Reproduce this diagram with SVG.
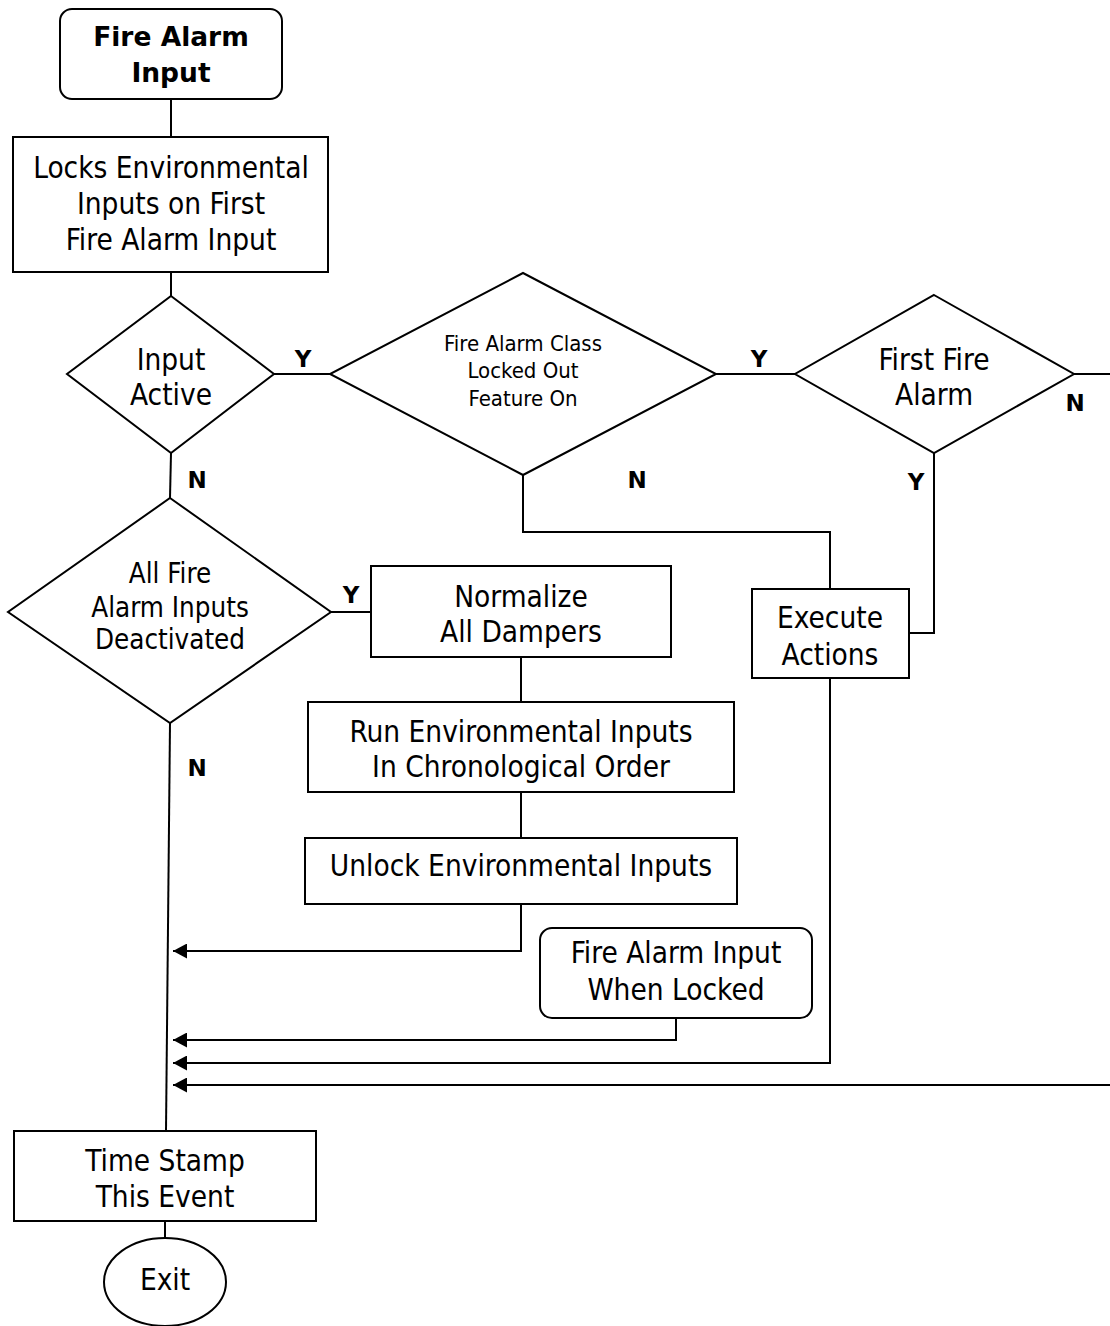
<svg xmlns="http://www.w3.org/2000/svg" width="1110" height="1326" viewBox="0 0 1110 1326">
<style>
  .shape { fill: #ffffff; stroke: #000000; stroke-width: 2; }
  .conn { fill: none; stroke: #000000; stroke-width: 2; }
  text { font-family: 'DejaVu Sans Condensed', 'DejaVu Sans', sans-serif; font-stretch: condensed; fill: #000000; text-anchor: middle; }
  .t { font-size: 29.5px; }
  .ts { font-size: 22px; }
  .tm { font-size: 27.5px; }
  .title { font-family: 'DejaVu Sans', sans-serif; font-stretch: normal; font-weight: bold; font-size: 26.5px; }
  .lbl { font-family: 'DejaVu Sans', sans-serif; font-stretch: normal; font-weight: bold; font-size: 23px; }
</style>
<defs>
  <marker id="arrow" viewBox="0 0 14 15" refX="14" refY="7.5" markerWidth="14" markerHeight="15" markerUnits="userSpaceOnUse" orient="auto">
    <path d="M0,0 L14,7.5 L0,15 z" fill="#000000"/>
  </marker>
</defs>
<rect width="1110" height="1326" fill="#ffffff"/>

<g id="connectors">
  <path class="conn" d="M171,99 L171,137"/>
  <path class="conn" d="M171,272 L171,296"/>
  <path class="conn" d="M274,374 L330,374"/>
  <path class="conn" d="M716,374 L795,374"/>
  <path class="conn" d="M1074,374 L1110,374"/>
  <path class="conn" d="M171,453 L170,498"/>
  <path class="conn" d="M523,475 L523,532 L830,532 L830,589"/>
  <path class="conn" d="M934,453 L934,633 L909,633"/>
  <path class="conn" d="M331,612 L371,612"/>
  <path class="conn" d="M521,657 L521,702"/>
  <path class="conn" d="M521,792 L521,838"/>
  <path class="conn" d="M170,723 L166,1131"/>
  <path class="conn" d="M521,904 L521,951 L173,951" marker-end="url(#arrow)"/>
  <path class="conn" d="M676,1018 L676,1040 L173,1040" marker-end="url(#arrow)"/>
  <path class="conn" d="M830,678 L830,1063 L173,1063" marker-end="url(#arrow)"/>
  <path class="conn" d="M1110,1085 L173,1085" marker-end="url(#arrow)"/>
  <path class="conn" d="M165,1221 L165,1238"/>
</g>

<g id="labels">
  <text class="lbl" x="303" y="367">Y</text>
  <text class="lbl" x="759" y="367">Y</text>
  <text class="lbl" x="1075" y="411">N</text>
  <text class="lbl" x="916" y="490">Y</text>
  <text class="lbl" x="637" y="488">N</text>
  <text class="lbl" x="197" y="488">N</text>
  <text class="lbl" x="351" y="603">Y</text>
  <text class="lbl" x="197" y="776">N</text>
</g>

<g id="fire-alarm-input">
  <rect class="shape" x="60" y="9" width="222" height="90" rx="12" ry="12"/>
  <text class="title" x="171" y="46">Fire Alarm</text>
  <text class="title" x="171" y="82">Input</text>
</g>

<g id="locks-environmental">
  <rect class="shape" x="13" y="137" width="315" height="135"/>
  <text class="t" x="171" y="178">Locks Environmental</text>
  <text class="t" x="171" y="214">Inputs on First</text>
  <text class="t" x="171" y="250">Fire Alarm Input</text>
</g>

<g id="input-active">
  <polygon class="shape" points="171,296 274,374 171,453 67,374"/>
  <text class="t" x="171" y="370">Input</text>
  <text class="t" x="171" y="405">Active</text>
</g>

<g id="class-locked-out">
  <polygon class="shape" points="523,273 716,374 523,475 330,374"/>
  <text class="ts" x="523" y="351">Fire Alarm Class</text>
  <text class="ts" x="523" y="378">Locked Out</text>
  <text class="ts" x="523" y="406">Feature On</text>
</g>

<g id="first-fire-alarm">
  <polygon class="shape" points="934,295 1074,374 934,453 795,374"/>
  <text class="t" x="934" y="370">First Fire</text>
  <text class="t" x="934" y="405">Alarm</text>
</g>

<g id="all-deactivated">
  <polygon class="shape" points="170,498 331,612 170,723 8,612"/>
  <text class="tm" x="170" y="583">All Fire</text>
  <text class="tm" x="170" y="617">Alarm Inputs</text>
  <text class="tm" x="170" y="649">Deactivated</text>
</g>

<g id="normalize-dampers">
  <rect class="shape" x="371" y="566" width="300" height="91"/>
  <text class="t" x="521" y="607">Normalize</text>
  <text class="t" x="521" y="642">All Dampers</text>
</g>

<g id="execute-actions">
  <rect class="shape" x="752" y="589" width="157" height="89"/>
  <text class="t" x="830" y="628">Execute</text>
  <text class="t" x="830" y="665">Actions</text>
</g>

<g id="run-environmental">
  <rect class="shape" x="308" y="702" width="426" height="90"/>
  <text class="t" x="521" y="742">Run Environmental Inputs</text>
  <text class="t" x="521" y="777">In Chronological Order</text>
</g>

<g id="unlock-environmental">
  <rect class="shape" x="305" y="838" width="432" height="66"/>
  <text class="t" x="521" y="876">Unlock Environmental Inputs</text>
</g>

<g id="input-when-locked">
  <rect class="shape" x="540" y="928" width="272" height="90" rx="12" ry="12"/>
  <text class="t" x="676" y="963">Fire Alarm Input</text>
  <text class="t" x="676" y="1000">When Locked</text>
</g>

<g id="time-stamp">
  <rect class="shape" x="14" y="1131" width="302" height="90"/>
  <text class="t" x="165" y="1171">Time Stamp</text>
  <text class="t" x="165" y="1207">This Event</text>
</g>

<g id="exit">
  <ellipse class="shape" cx="165" cy="1282" rx="61" ry="44"/>
  <text class="t" x="165" y="1290">Exit</text>
</g>
</svg>
